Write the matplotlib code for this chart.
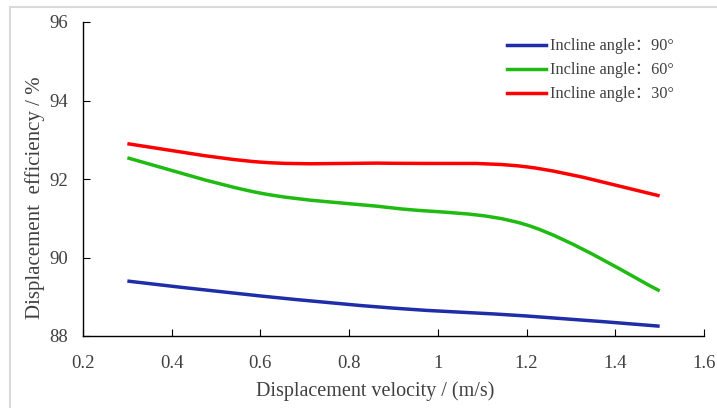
import matplotlib
matplotlib.use("Agg")
import matplotlib.pyplot as plt
import numpy as np
from matplotlib.lines import Line2D
from matplotlib.patches import PathPatch, Rectangle
from matplotlib.path import Path

velocity = [0.3, 0.6, 0.9, 1.2, 1.5]
eff_90 = [89.40, 89.02, 88.71, 88.51, 88.25]
eff_60 = [92.54, 91.64, 91.26, 90.83, 89.15]
eff_30 = [92.90, 92.43, 92.40, 92.31, 91.57]
labels = ["Incline angle\uff1a90\u00b0", "Incline angle\uff1a60\u00b0", "Incline angle\uff1a30\u00b0"]
colors = ["#1F2DA8", "#1FBA12", "#FF0000"]

plt.rcParams.update({
    "font.family": ["Liberation Serif", "Noto Sans CJK SC"],
    "axes.linewidth": 1.0,
})


def smooth_path(xs, ys):
    # Excel-like smoothed line: cubic Bezier segments with Catmull-Rom tangents
    pts = np.column_stack([xs, ys]).astype(float)
    n = len(pts)
    verts = [pts[0]]
    codes = [Path.MOVETO]
    for i in range(n - 1):
        p0 = pts[i - 1] if i > 0 else pts[i]
        p1 = pts[i]
        p2 = pts[i + 1]
        p3 = pts[i + 2] if i + 2 < n else pts[i + 1]
        c1 = p1 + (p2 - p0) / 6
        c2 = p2 - (p3 - p1) / 6
        verts += [c1, c2, p2]
        codes += [Path.CURVE4] * 3
    return Path(verts, codes)


fig = plt.figure(figsize=(7.17, 4.08), dpi=100)
fig.patches.append(Rectangle((10 / 717, -0.1), 1.1, (408 - 7) / 408 + 0.1,
                             transform=fig.transFigure, fill=False, ec="#D9D9D9", lw=1.5))
ax = fig.add_axes([83 / 717, 1 - 336 / 408, (704 - 83) / 717, (336 - 22) / 408])

for ys, c in zip([eff_90, eff_60, eff_30], colors):
    ax.add_patch(PathPatch(smooth_path(velocity, ys), fill=False, ec=c, lw=2.5, capstyle="butt"))

ax.set_xlim(0.2, 1.6)
ax.set_ylim(88, 96)
ax.set_xticks(np.arange(0.2, 1.61, 0.2), labels=["0.2", "0.4", "0.6", "0.8", "1", "1.2", "1.4", "1.6"])
ax.set_yticks([88, 90, 92, 94, 96])
ax.tick_params(direction="in", length=5, labelsize=13.5, colors="black", labelcolor="#404040")
ax.tick_params(axis="x", pad=14)
ax.tick_params(axis="y", pad=11)
ax.spines["top"].set_visible(False)
ax.spines["right"].set_visible(False)
ax.set_xlabel("Displacement velocity / (m/s)", fontsize=14.5, color="#404040", labelpad=6)
ax.xaxis.label.set_x(0.47)
ax.set_ylabel("Displacement  efficiency / %", fontsize=15, color="#404040", labelpad=3)
ax.yaxis.label.set_y(0.44)

handles = [Line2D([], [], color=c, lw=2.5) for c in colors]
ax.legend(handles, labels, loc="upper left", bbox_to_anchor=(0.66, 0.995), frameon=False,
          fontsize=11.7, handlelength=2.4, handletextpad=0.2, labelspacing=0.5, labelcolor="#404040")

fig.savefig("out.png", dpi=100)
